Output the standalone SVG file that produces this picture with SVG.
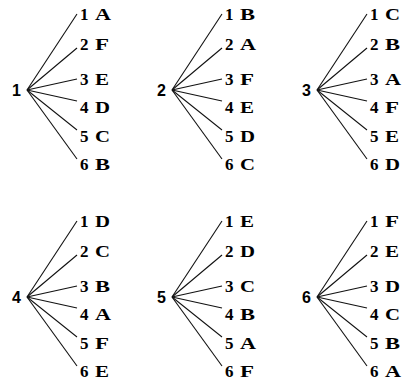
<svg xmlns="http://www.w3.org/2000/svg" width="404" height="381" viewBox="0 0 404 381">
<style>
.rt{font-family:"Liberation Sans",Arial,sans-serif;font-weight:bold;font-size:16px;fill:#000}
.lf{font-family:"Liberation Serif","Times New Roman",serif;font-weight:bold;font-size:16px;fill:#000}
.lf tspan.d{font-size:17px}
.cn line{stroke:#111;stroke-width:1.1}
</style>
<rect width="404" height="381" fill="#fff"/>
<g class="cn" id="connectors">
<line x1="27" y1="90" x2="77" y2="14"/><line x1="27" y1="90" x2="77" y2="48"/><line x1="27" y1="90" x2="77" y2="79"/><line x1="27" y1="90" x2="77" y2="101"/><line x1="27" y1="90" x2="77" y2="130"/><line x1="27" y1="90" x2="77" y2="159"/>
<line x1="172" y1="90" x2="222" y2="14"/><line x1="172" y1="90" x2="222" y2="48"/><line x1="172" y1="90" x2="222" y2="79"/><line x1="172" y1="90" x2="222" y2="101"/><line x1="172" y1="90" x2="222" y2="130"/><line x1="172" y1="90" x2="222" y2="159"/>
<line x1="317" y1="90" x2="367" y2="14"/><line x1="317" y1="90" x2="367" y2="48"/><line x1="317" y1="90" x2="367" y2="79"/><line x1="317" y1="90" x2="367" y2="101"/><line x1="317" y1="90" x2="367" y2="130"/><line x1="317" y1="90" x2="367" y2="159"/>
<line x1="27" y1="297" x2="77" y2="221"/><line x1="27" y1="297" x2="77" y2="255"/><line x1="27" y1="297" x2="77" y2="286"/><line x1="27" y1="297" x2="77" y2="308"/><line x1="27" y1="297" x2="77" y2="337"/><line x1="27" y1="297" x2="77" y2="366"/>
<line x1="172" y1="297" x2="222" y2="221"/><line x1="172" y1="297" x2="222" y2="255"/><line x1="172" y1="297" x2="222" y2="286"/><line x1="172" y1="297" x2="222" y2="308"/><line x1="172" y1="297" x2="222" y2="337"/><line x1="172" y1="297" x2="222" y2="366"/>
<line x1="317" y1="297" x2="367" y2="221"/><line x1="317" y1="297" x2="367" y2="255"/><line x1="317" y1="297" x2="367" y2="286"/><line x1="317" y1="297" x2="367" y2="308"/><line x1="317" y1="297" x2="367" y2="337"/><line x1="317" y1="297" x2="367" y2="366"/>
</g>
<g id="root1"><text class="rt" x="12" y="96">1</text></g>
<g id="root2"><text class="rt" x="157" y="96">2</text></g>
<g id="root3"><text class="rt" x="302" y="96">3</text></g>
<g id="root4"><text class="rt" x="12" y="303">4</text></g>
<g id="root5"><text class="rt" x="157" y="303">5</text></g>
<g id="root6"><text class="rt" x="302" y="303">6</text></g>

<g id="t1-1"><text class="lf" y="20"><tspan class="d" x="80">1</tspan> <tspan x="95" textLength="16" lengthAdjust="spacingAndGlyphs">A</tspan></text></g>
<g id="t1-2"><text class="lf" y="50"><tspan class="d" x="80">2</tspan> <tspan x="95" textLength="14" lengthAdjust="spacingAndGlyphs">F</tspan></text></g>
<g id="t1-3"><text class="lf" y="85"><tspan class="d" x="80">3</tspan> <tspan x="95" textLength="14" lengthAdjust="spacingAndGlyphs">E</tspan></text></g>
<g id="t1-4"><text class="lf" y="113"><tspan class="d" x="80">4</tspan> <tspan x="95" textLength="15" lengthAdjust="spacingAndGlyphs">D</tspan></text></g>
<g id="t1-5"><text class="lf" y="142"><tspan class="d" x="80">5</tspan> <tspan x="95" textLength="15" lengthAdjust="spacingAndGlyphs">C</tspan></text></g>
<g id="t1-6"><text class="lf" y="170"><tspan class="d" x="80">6</tspan> <tspan x="95" textLength="15" lengthAdjust="spacingAndGlyphs">B</tspan></text></g>

<g id="t2-1"><text class="lf" y="20"><tspan class="d" x="225">1</tspan> <tspan x="240" textLength="15" lengthAdjust="spacingAndGlyphs">B</tspan></text></g>
<g id="t2-2"><text class="lf" y="50"><tspan class="d" x="225">2</tspan> <tspan x="240" textLength="16" lengthAdjust="spacingAndGlyphs">A</tspan></text></g>
<g id="t2-3"><text class="lf" y="85"><tspan class="d" x="225">3</tspan> <tspan x="240" textLength="14" lengthAdjust="spacingAndGlyphs">F</tspan></text></g>
<g id="t2-4"><text class="lf" y="113"><tspan class="d" x="225">4</tspan> <tspan x="240" textLength="14" lengthAdjust="spacingAndGlyphs">E</tspan></text></g>
<g id="t2-5"><text class="lf" y="142"><tspan class="d" x="225">5</tspan> <tspan x="240" textLength="15" lengthAdjust="spacingAndGlyphs">D</tspan></text></g>
<g id="t2-6"><text class="lf" y="170"><tspan class="d" x="225">6</tspan> <tspan x="240" textLength="15" lengthAdjust="spacingAndGlyphs">C</tspan></text></g>

<g id="t3-1"><text class="lf" y="20"><tspan class="d" x="370">1</tspan> <tspan x="385" textLength="15" lengthAdjust="spacingAndGlyphs">C</tspan></text></g>
<g id="t3-2"><text class="lf" y="50"><tspan class="d" x="370">2</tspan> <tspan x="385" textLength="15" lengthAdjust="spacingAndGlyphs">B</tspan></text></g>
<g id="t3-3"><text class="lf" y="85"><tspan class="d" x="370">3</tspan> <tspan x="385" textLength="16" lengthAdjust="spacingAndGlyphs">A</tspan></text></g>
<g id="t3-4"><text class="lf" y="113"><tspan class="d" x="370">4</tspan> <tspan x="385" textLength="14" lengthAdjust="spacingAndGlyphs">F</tspan></text></g>
<g id="t3-5"><text class="lf" y="142"><tspan class="d" x="370">5</tspan> <tspan x="385" textLength="14" lengthAdjust="spacingAndGlyphs">E</tspan></text></g>
<g id="t3-6"><text class="lf" y="170"><tspan class="d" x="370">6</tspan> <tspan x="385" textLength="15" lengthAdjust="spacingAndGlyphs">D</tspan></text></g>

<g id="t4-1"><text class="lf" y="227"><tspan class="d" x="80">1</tspan> <tspan x="95" textLength="15" lengthAdjust="spacingAndGlyphs">D</tspan></text></g>
<g id="t4-2"><text class="lf" y="257"><tspan class="d" x="80">2</tspan> <tspan x="95" textLength="15" lengthAdjust="spacingAndGlyphs">C</tspan></text></g>
<g id="t4-3"><text class="lf" y="292"><tspan class="d" x="80">3</tspan> <tspan x="95" textLength="15" lengthAdjust="spacingAndGlyphs">B</tspan></text></g>
<g id="t4-4"><text class="lf" y="320"><tspan class="d" x="80">4</tspan> <tspan x="95" textLength="16" lengthAdjust="spacingAndGlyphs">A</tspan></text></g>
<g id="t4-5"><text class="lf" y="349"><tspan class="d" x="80">5</tspan> <tspan x="95" textLength="14" lengthAdjust="spacingAndGlyphs">F</tspan></text></g>
<g id="t4-6"><text class="lf" y="377"><tspan class="d" x="80">6</tspan> <tspan x="95" textLength="14" lengthAdjust="spacingAndGlyphs">E</tspan></text></g>

<g id="t5-1"><text class="lf" y="227"><tspan class="d" x="225">1</tspan> <tspan x="240" textLength="14" lengthAdjust="spacingAndGlyphs">E</tspan></text></g>
<g id="t5-2"><text class="lf" y="257"><tspan class="d" x="225">2</tspan> <tspan x="240" textLength="15" lengthAdjust="spacingAndGlyphs">D</tspan></text></g>
<g id="t5-3"><text class="lf" y="292"><tspan class="d" x="225">3</tspan> <tspan x="240" textLength="15" lengthAdjust="spacingAndGlyphs">C</tspan></text></g>
<g id="t5-4"><text class="lf" y="320"><tspan class="d" x="225">4</tspan> <tspan x="240" textLength="15" lengthAdjust="spacingAndGlyphs">B</tspan></text></g>
<g id="t5-5"><text class="lf" y="349"><tspan class="d" x="225">5</tspan> <tspan x="240" textLength="16" lengthAdjust="spacingAndGlyphs">A</tspan></text></g>
<g id="t5-6"><text class="lf" y="377"><tspan class="d" x="225">6</tspan> <tspan x="240" textLength="14" lengthAdjust="spacingAndGlyphs">F</tspan></text></g>

<g id="t6-1"><text class="lf" y="227"><tspan class="d" x="370">1</tspan> <tspan x="385" textLength="14" lengthAdjust="spacingAndGlyphs">F</tspan></text></g>
<g id="t6-2"><text class="lf" y="257"><tspan class="d" x="370">2</tspan> <tspan x="385" textLength="14" lengthAdjust="spacingAndGlyphs">E</tspan></text></g>
<g id="t6-3"><text class="lf" y="292"><tspan class="d" x="370">3</tspan> <tspan x="385" textLength="15" lengthAdjust="spacingAndGlyphs">D</tspan></text></g>
<g id="t6-4"><text class="lf" y="320"><tspan class="d" x="370">4</tspan> <tspan x="385" textLength="15" lengthAdjust="spacingAndGlyphs">C</tspan></text></g>
<g id="t6-5"><text class="lf" y="349"><tspan class="d" x="370">5</tspan> <tspan x="385" textLength="15" lengthAdjust="spacingAndGlyphs">B</tspan></text></g>
<g id="t6-6"><text class="lf" y="377"><tspan class="d" x="370">6</tspan> <tspan x="385" textLength="16" lengthAdjust="spacingAndGlyphs">A</tspan></text></g>
</svg>
